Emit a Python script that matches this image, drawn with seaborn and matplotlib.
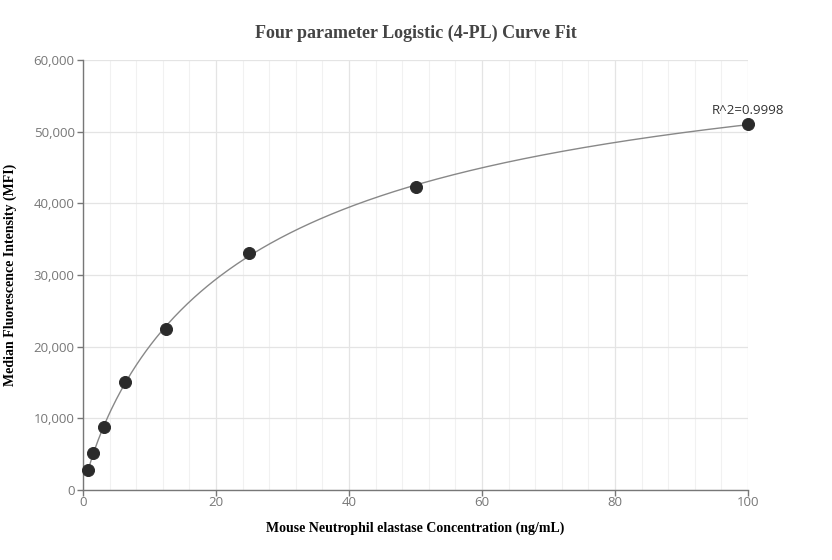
import numpy as np
import pandas as pd
import seaborn as sns
import matplotlib.pyplot as plt
from matplotlib.ticker import FuncFormatter, MultipleLocator

# standard concentrations (ng/mL) and measured MFI
conc = [0.78, 1.56, 3.125, 6.25, 12.5, 25, 50, 100]
mfi = [2800, 5150, 8850, 15050, 22450, 33050, 42300, 51050]
r2_label = "R^2=0.9998"

df = pd.DataFrame({"conc": conc, "mfi": mfi})


def fit_4pl(x, y):
    # grid search over slope / EC50, linear least squares for the asymptotes
    x = np.asarray(x, float)
    y = np.asarray(y, float)
    best = None
    for b in np.linspace(0.3, 2.5, 221):
        for c in np.logspace(0, 3, 301):
            g = 1.0 / (1.0 + (x / c) ** b)
            A = np.column_stack([g, 1 - g])
            coef, *_ = np.linalg.lstsq(A, y, rcond=None)
            err = np.sum((A @ coef - y) ** 2)
            if best is None or err < best[0]:
                best = (err, coef[0], b, c, coef[1])
    return best[1:]


a, b, c, d = fit_4pl(conc, mfi)
xs = np.linspace(min(conc), max(conc), 400)
curve = pd.DataFrame({"conc": xs, "mfi": d + (a - d) / (1 + (xs / c) ** b)})

sns.set_style("white")
plt.rcParams["font.family"] = ["Open Sans", "DejaVu Sans"]

fig = plt.figure(figsize=(8.32, 5.6), dpi=100)
ax = fig.add_axes([0.0998, 0.125, 0.7993, 0.768])

sns.lineplot(data=curve, x="conc", y="mfi", ax=ax, color="#888888", linewidth=1)
sns.scatterplot(data=df, x="conc", y="mfi", ax=ax, color="#2b2b2b", s=75,
                edgecolor="#2b2b2b", zorder=3, clip_on=False)

ax.set_xlim(0, 100)
ax.set_ylim(0, 60000)
ax.xaxis.set_major_locator(MultipleLocator(20))
ax.xaxis.set_minor_locator(MultipleLocator(4))
ax.yaxis.set_major_locator(MultipleLocator(10000))
ax.yaxis.set_major_formatter(FuncFormatter(lambda v, p: f"{int(v):,}"))
ax.grid(which="major", color="#e4e4e4", linewidth=0.9)
ax.grid(which="minor", axis="x", color="#f1f1f1", linewidth=0.8)
ax.set_axisbelow(True)

for s in ["top", "right"]:
    ax.spines[s].set_visible(False)
for s in ["left", "bottom"]:
    ax.spines[s].set_color("#777777")
    ax.spines[s].set_linewidth(1)
ax.tick_params(which="major", direction="out", length=4, width=1, pad=2,
               color="#777777", labelcolor="#777777", labelsize=9.5,
               left=True, bottom=True)
ax.tick_params(axis="x", pad=0)
ax.tick_params(which="minor", length=0)

ax.annotate(r2_label, (conc[-1], mfi[-1]), xytext=(0, 5), textcoords="offset points",
            ha="center", va="bottom", fontsize=9.5, color="#333333")

ax.set_title("Four parameter Logistic (4-PL) Curve Fit", family="Liberation Serif",
             fontweight="bold", fontsize=13, color="#444444", pad=16)
ax.set_xlabel("Mouse Neutrophil elastase Concentration (ng/mL)", family="Liberation Serif",
              fontweight="bold", fontsize=10, color="black", labelpad=9)
ax.set_ylabel("Median Fluorescence Intensity (MFI)", family="Liberation Serif",
              fontweight="bold", fontsize=10, color="black")
ax.yaxis.set_label_coords(-0.1, 0.5)

fig.savefig("out.png", dpi=100)
